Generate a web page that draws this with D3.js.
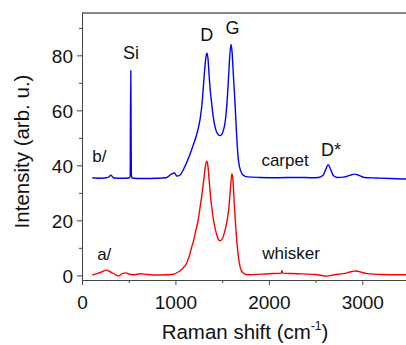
<!DOCTYPE html>
<html>
<head>
<meta charset="utf-8">
<script src="https://cdn.jsdelivr.net/npm/d3@7"></script>
<style>
    body { margin: 0; background: #fff; }
    svg { display: block; font-family: "Liberation Sans", Arial, sans-serif; }
    .axis path, .axis line { stroke: #444; }
    .axis text { font-size: 19px; fill: #111; font-family: "Liberation Sans", Arial, sans-serif; }
</style>
</head>
<body>
<div id="chart"></div>
<script>

/*carpet spectrum (b/)*/
var carpetShift = [110, 200, 280, 310, 340, 420, 500, 515, 522, 528, 536, 650, 800, 900, 960, 990, 1015, 1050,
    1100, 1150, 1190, 1230, 1265, 1285, 1300, 1315, 1327, 1337, 1348, 1362, 1375, 1388, 1405, 1424, 1450, 1478,
    1500, 1520, 1535, 1550, 1567, 1580, 1595, 1607, 1620, 1638, 1655, 1674, 1700, 1727, 1770, 1900, 2100, 2300,
    2450, 2530, 2580, 2610, 2635, 2660, 2690, 2730, 2800, 2880, 2920, 2960, 3020, 3150, 3300, 3500];
var carpetIntensity = [35.5, 35.3, 35.6, 36.4, 35.4, 35.3, 35.4, 35.8, 74.4, 37, 35.4, 35.2, 35.3, 35.5, 36.9, 37.2, 36.1, 36.5,
    39.5, 43.5, 47.3, 51.5, 57, 62.5, 69, 75.5, 79.5, 80.8, 79, 72, 66.5, 62.5, 57.5, 54, 51.5, 50.8,
    51.5, 53.5, 56.5, 62, 71, 79, 84, 81, 73, 62.5, 51, 42, 37.8, 36.4, 35.8, 35.6, 35.5, 35.6,
    35.5, 35.6, 36.4, 38.6, 40.2, 38.6, 36.3, 35.6, 35.7, 36.5, 36.8, 36.4, 35.6, 35.4, 35.2, 35.0];

/*whisker spectrum (a/)*/
var whiskerShift = [110, 160, 210, 260, 300, 350, 390, 430, 470, 510, 560, 620, 700, 800, 900, 980, 1030, 1080,
    1120, 1150, 1175, 1195, 1215, 1240, 1265, 1290, 1306, 1322, 1335, 1347, 1360, 1375, 1388, 1410, 1440, 1465,
    1480, 1500, 1520, 1545, 1570, 1590, 1605, 1615, 1630, 1656, 1675, 1692, 1720, 1763, 1850, 2000, 2100, 2132,
    2140, 2148, 2300, 2500, 2620, 2700, 2800, 2880, 2920, 2960, 3050, 3200, 3500];
var whiskerIntensity = [0.1, 0.6, 1.2, 1.9, 1.3, 0.4, -0.2, 0.6, 0.9, 0.4, 0.2, 0.6, 0.3, 0.1, 0.2, 0.4, 1.2, 2.6,
    4.4, 7.2, 10.4, 12.6, 15.8, 19.5, 25, 31, 35.5, 40, 41.5, 40, 35, 29, 25, 19.5, 15, 12.8,
    12.6, 13.2, 15, 18.5, 24, 32, 37, 35, 26, 12.8, 6.5, 3.1, 1, 0.2, 0.3, 0.6, 0.7, 0.8,
    1.8, 0.8, 0.6, 0.3, -0.3, 0.2, 0.6, 1.3, 1.6, 1.4, 0.6, 0.3, 0.2];

// ticks and peak labels
var xTicks = [0, 1000, 2000, 3000],
    xMinor = [500, 1500, 2500, 3500],
    yTicks = [0, 20, 40, 60, 80],
    yMinor = [10, 30, 50, 70, 90];

var peakLabels = [
    {text: "Si", shift: 525, value: 78.6, size: 18},
    {text: "D", shift: 1335, value: 85.2, size: 18},
    {text: "G", shift: 1610, value: 87.8, size: 18},
    {text: "D*", shift: 2665, value: 43.4, size: 18}
];
var sampleLabels = [
    {text: "b/", shift: 110, value: 41.3, size: 17, anchor: "start"},
    {text: "a/", shift: 162, value: 5.6, size: 17, anchor: "start"},
    {text: "carpet", shift: 1920, value: 39.8, size: 17, anchor: "start"},
    {text: "whisker", shift: 1930, value: 5.8, size: 17, anchor: "start"}
];

var margin = {top: 13, right: -3, bottom: 65, left: 82},
    width = 406 - margin.left - margin.right,
    height = 345 - margin.top - margin.bottom;

var x = d3.scaleLinear().domain([0, 3500]).range([0, width]),
    y = d3.scaleLinear().domain([-1.7, 95.4]).range([height, 0]);

var svg = d3.select("#chart").append("svg")
    .attr("width", 406)
    .attr("height", 345);

svg.append("defs").append("clipPath")
    .attr("id", "clip")
    .append("rect")
    .attr("width", width)
    .attr("height", height);

var focus = svg.append("g")
    .attr("transform", "translate(" + margin.left + "," + margin.top + ")");

/*axes: major ticks with labels, minor ticks shorter*/
focus.append("g")
    .attr("class", "axis axis--x")
    .attr("transform", "translate(0," + height + ")")
    .call(d3.axisBottom(x).tickValues(xTicks).tickFormat(d3.format("d")).tickSize(5).tickPadding(6).tickSizeOuter(0));

focus.append("g")
    .attr("class", "axis axis--x")
    .attr("transform", "translate(0," + height + ")")
    .call(d3.axisBottom(x).tickValues(xMinor).tickSize(3).tickFormat("").tickSizeOuter(0));

focus.append("g")
    .attr("class", "axis axis--y")
    .call(d3.axisLeft(y).tickValues(yTicks).tickSize(5).tickPadding(4).tickSizeOuter(0));

focus.append("g")
    .attr("class", "axis axis--y")
    .call(d3.axisLeft(y).tickValues(yMinor).tickSize(3).tickFormat("").tickSizeOuter(0));

focus.selectAll(".axis--x text").attr("dy", "0.95em");
focus.selectAll(".axis--y text").attr("dy", "0.36em");

// top frame line
focus.append("line")
    .attr("x1", 0).attr("x2", width)
    .attr("y1", 0).attr("y2", 0)
    .style("stroke", "#111")
    .style("stroke-width", 1.2);

var line = d3.line()
    .x(function (d) { return x(d[0]); })
    .y(function (d) { return y(d[1]); })
    .curve(d3.curveMonotoneX);

var curves = focus.append("g").attr("clip-path", "url(#clip)");

curves.append("path")
    .datum(d3.zip(whiskerShift, whiskerIntensity))
    .attr("d", line)
    .style("fill", "none")
    .style("stroke", "#ff0000")
    .style("stroke-width", 1.4);

curves.append("path")
    .datum(d3.zip(carpetShift, carpetIntensity))
    .attr("d", line)
    .style("fill", "none")
    .style("stroke", "#0000ff")
    .style("stroke-width", 1.4);

focus.selectAll(".peak")
    .data(peakLabels)
    .enter().append("text")
    .attr("class", "peak")
    .attr("x", function (d) { return x(d.shift); })
    .attr("y", function (d) { return y(d.value); })
    .style("text-anchor", "middle")
    .style("font-size", function (d) { return d.size + "px"; })
    .style("fill", "#111")
    .text(function (d) { return d.text; });

focus.selectAll(".sample")
    .data(sampleLabels)
    .enter().append("text")
    .attr("class", "sample")
    .attr("x", function (d) { return x(d.shift); })
    .attr("y", function (d) { return y(d.value); })
    .style("text-anchor", function (d) { return d.anchor; })
    .style("font-size", function (d) { return d.size + "px"; })
    .style("fill", "#111")
    .text(function (d) { return d.text; });

/*axis titles*/
svg.append("text")
    .attr("transform", "translate(29,151.5) rotate(-90)")
    .style("text-anchor", "middle")
    .style("font-size", "20.5px")
    .style("fill", "#111")
    .text("Intensity (arb. u.)");

var xTitle = svg.append("text")
    .attr("x", 245)
    .attr("y", 339)
    .style("text-anchor", "middle")
    .style("font-size", "20.5px")
    .style("fill", "#111");
xTitle.append("tspan").text("Raman shift (cm");
xTitle.append("tspan").attr("dy", -9).style("font-size", "12px").text("-1");
xTitle.append("tspan").attr("dy", 9).text(")");

</script>
</body>
</html>
